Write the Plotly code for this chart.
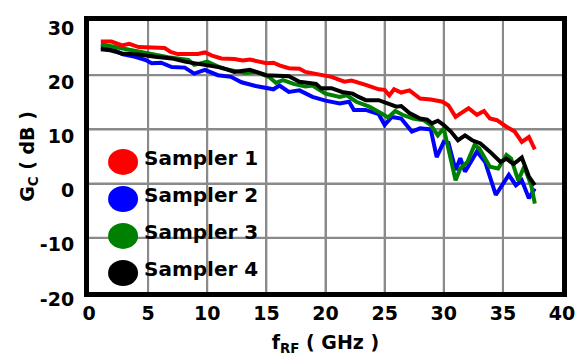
import plotly.graph_objects as go

# Sampler 1 (red)
f_s1 = [1.0,1.9,2.8,3.4,4.2,5.5,6.4,6.9,7.5,9.2,9.8,10.4,11.2,12.3,13.0,13.6,15.0,15.6,16.1,16.9,17.8,18.3,19.4,20.5,21.6,22.2,23.4,24.5,25.0,25.4,25.8,26.4,27.1,28.0,28.9,29.9,30.4,31.0,31.4,32.1,32.8,33.4,33.9,34.5,35.3,36.0,36.6,37.2,37.7]
g_s1 = [26.2,26.2,25.5,25.8,25.2,25.1,25.0,24.3,23.9,23.9,24.2,23.6,23.1,23.0,22.7,22.9,22.2,22.3,21.8,21.3,21.2,20.6,20.2,19.7,18.8,19.0,18.2,17.4,17.3,16.3,17.4,16.8,17.2,15.7,15.5,15.1,14.4,12.3,12.9,13.9,12.7,13.4,12.0,11.7,10.5,9.6,7.7,8.6,6.3]

# Sampler 2 (blue)
f_s2 = [1.0,1.8,2.8,3.9,4.8,5.3,6.1,7.0,8.1,8.9,9.8,10.9,12.0,12.9,14.1,15.0,15.6,16.1,16.9,17.8,18.9,20.0,21.2,22.0,22.4,23.4,24.5,25.0,25.6,26.4,27.3,28.0,28.9,29.4,30.0,30.4,31.0,31.4,31.8,32.8,33.5,34.4,35.5,36.1,36.6,37.2,37.7]
g_s2 = [25.2,25.0,23.9,23.4,22.8,22.2,22.3,21.5,21.4,20.3,21.0,20.0,19.7,18.7,18.0,17.6,17.4,18.1,16.9,17.2,16.0,15.3,14.8,15.1,13.6,13.6,12.8,10.8,12.3,12.0,9.6,10.2,10.0,4.9,7.7,7.5,2.5,4.7,2.2,5.9,4.0,-2.1,1.6,-0.3,0.6,-2.7,-0.9]

# Sampler 3 (green)
f_s3 = [1.0,2.8,5.0,6.7,8.4,8.9,10.0,11.2,12.3,13.2,14.1,15.2,15.8,16.4,17.3,18.3,18.9,20.0,21.2,21.8,22.6,23.7,24.7,25.3,25.9,26.5,27.4,28.3,28.9,29.5,30.0,30.4,31.0,31.4,32.0,32.6,33.0,33.9,34.6,35.3,35.7,36.3,36.8,37.4,37.7]
g_s3 = [25.7,24.9,23.9,23.3,22.8,21.9,22.5,21.3,20.8,20.4,20.6,19.7,18.6,19.1,18.4,17.9,18.1,16.6,16.0,16.3,15.1,14.2,13.0,12.2,13.4,12.7,12.0,11.7,10.8,8.9,10.2,6.2,0.6,2.8,4.0,7.1,6.5,3.1,2.8,5.3,4.6,0.6,3.1,-0.3,-3.7]

# Sampler 4 (black)
f_s4 = [1.0,1.8,2.8,4.2,5.6,7.0,8.1,9.2,10.0,11.2,12.3,13.2,13.6,15.0,16.9,17.8,19.2,19.6,20.5,21.4,22.3,22.8,23.4,24.5,25.0,26.0,26.4,27.1,28.0,28.6,29.0,29.5,30.0,30.6,31.2,31.8,32.4,33.1,33.9,34.8,35.3,35.9,36.6,37.2,37.7]
g_s4 = [24.8,24.6,24.0,23.8,23.4,23.1,22.5,22.1,21.9,21.4,20.6,21.0,21.0,20.0,19.8,18.8,18.4,17.6,17.6,16.9,16.6,16.0,15.4,15.4,15.0,14.2,14.3,13.0,12.0,11.8,11.1,11.6,10.8,9.6,8.0,8.9,8.0,7.4,5.9,4.0,4.6,3.6,4.8,1.3,-0.3]

series_names = ["Sampler 1", "Sampler 2", "Sampler 3", "Sampler 4"]
series_colors = ["#FF0000", "#0000FF", "#008000", "#000000"]
x_ticks = [0, 5, 10, 15, 20, 25, 30, 35, 40]
y_ticks = [-20, -10, 0, 10, 20, 30]

data = {
    "Sampler 1": (f_s1, g_s1),
    "Sampler 2": (f_s2, g_s2),
    "Sampler 3": (f_s3, g_s3),
    "Sampler 4": (f_s4, g_s4),
}

FONT = "DejaVu Sans"
GRID = "#8a8a8a"

fig = go.Figure()

# grid lines at the tick positions (drawn beneath the traces)
for xv in x_ticks[1:-1]:
    fig.add_shape(type="line", xref="x", yref="paper", x0=xv, x1=xv, y0=0, y1=1,
                  line=dict(color=GRID, width=2), layer="below")
for yv in y_ticks[1:-1]:
    fig.add_shape(type="line", xref="paper", yref="y", x0=0, x1=1, y0=yv, y1=yv,
                  line=dict(color=GRID, width=2), layer="below")

draw_order = ["Sampler 2", "Sampler 3", "Sampler 4", "Sampler 1"]
for name in draw_order:
    col = series_colors[series_names.index(name)]
    fx, gy = data[name]
    fig.add_trace(go.Scatter(x=fx, y=gy, mode="lines", name=name,
                             line=dict(color=col, width=4), showlegend=False))

# manual legend (large circular swatches)
leg_y = [0.480, 0.343, 0.207, 0.070]
for name, col, yy in zip(series_names, series_colors, leg_y):
    fig.add_shape(type="circle", xref="paper", yref="paper",
                  xsizemode="pixel", ysizemode="pixel",
                  xanchor=0.072, yanchor=yy,
                  x0=-15, x1=15, y0=-13, y1=13,
                  fillcolor=col, line=dict(width=0))
    fig.add_annotation(x=0.112, y=yy + 0.014, xref="paper", yref="paper",
                       text="<b>" + name + "</b>", showarrow=False,
                       xanchor="left", yanchor="middle",
                       font=dict(family=FONT, size=20, color="black"))

fig.update_layout(
    width=583, height=360,
    margin=dict(l=89, r=21, t=21, b=68),
    paper_bgcolor="white", plot_bgcolor="white",
    showlegend=False,
    font=dict(family=FONT, color="black"),
)
fig.update_xaxes(range=[0, 40], tickvals=x_ticks, ticktext=[str(v) for v in x_ticks],
                 showgrid=True, gridcolor=GRID, gridwidth=2, zeroline=False,
                 showline=True, linecolor="black", linewidth=5, mirror=True,
                 ticks="", automargin=False,
                 tickfont=dict(family=FONT, size=19, weight="bold"),
                 title=dict(text="<b>f<sub>RF</sub> ( GHz )</b>", standoff=14,
                            font=dict(family=FONT, size=19)))
fig.update_yaxes(range=[-20, 30], tickvals=y_ticks, ticktext=[str(v) for v in y_ticks],
                 showgrid=True, gridcolor=GRID, gridwidth=2, zeroline=False,
                 showline=True, linecolor="black", linewidth=5, mirror=True,
                 ticks="outside", ticklen=6, tickcolor="rgba(0,0,0,0)",
                 ticklabelshift=7,
                 automargin=False,
                 tickfont=dict(family=FONT, size=19, weight="bold"),
                 title=dict(text="<b>G<sub>C</sub> ( dB )</b>", standoff=2,
                            font=dict(family=FONT, size=19)))

fig.write_html("out.html", config={"displayModeBar": False},
               post_script="document.body.style.margin='0';")
